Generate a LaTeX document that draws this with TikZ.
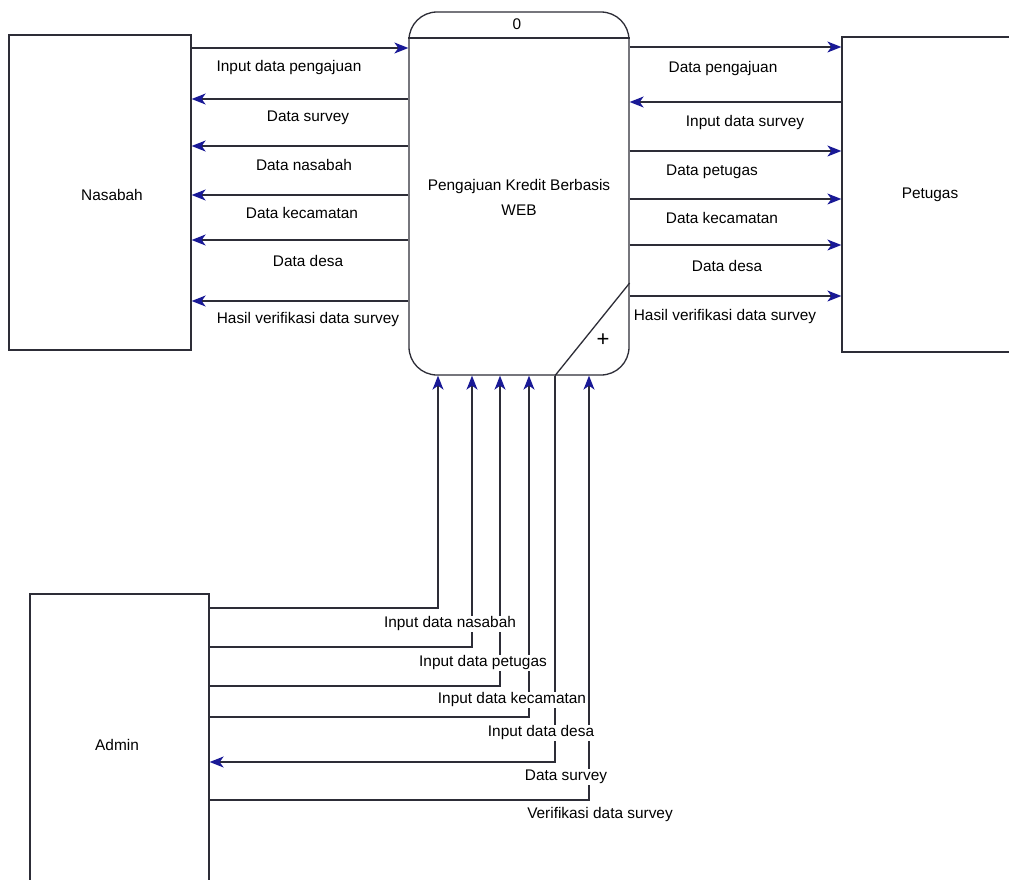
\documentclass[tikz,border=0pt]{standalone}
\usepackage{fontspec}
\setmainfont{Liberation Sans}
\usetikzlibrary{arrows.meta}
\definecolor{linec}{RGB}{45,45,55}
\definecolor{arrc}{RGB}{25,25,150}
\tikzset{
  x=1pt, y=-1pt,
  ent/.style={draw=linec, line width=1.3pt, rectangle, inner sep=0pt},
  proc/.style={draw=linec, line width=1.3pt, rectangle, rounded corners=28pt, inner sep=0pt},
  flow/.style={draw=linec, line width=1.3pt},
  arr/.style={flow, -{Stealth[length=14pt,width=11pt,inset=4pt,color=arrc]}},
  lbl/.style={font=\fontsize{15.4}{18}\selectfont, fill=white, inner sep=1pt},
  txt/.style={font=\fontsize{15.4}{25}\selectfont, align=center, inner sep=0pt},
}
\begin{document}
\begin{tikzpicture}
\useasboundingbox (0,0) rectangle (1009,879);
\clip (0,0) rectangle (1009,879);
\fill[white] (0,0) rectangle (1009,879);

% entities
\node[ent, minimum width=182pt, minimum height=315pt] (nas) at (100,192.5) {};
\node[txt] (nasT) at (112,195) {Nasabah};
\node[ent, minimum width=176pt, minimum height=315pt] (pet) at (930,194.5) {};
\node[txt] (petT) at (930,195) {Petugas};
\node[ent, minimum width=179pt, minimum height=302pt] (adm) at (119.5,745) {};
\node[txt] (admT) at (117,745) {Admin};

% process
\node[proc, minimum width=220pt, minimum height=363pt] (pr) at (519,193.5) {};
\draw[flow] (pr.west |- {(0,38)}) -- (pr.east |- {(0,38)});
\node[txt] (prN) at (517,24) {0};
\node[txt] (prT) at (519,197) {Pengajuan Kredit Berbasis\\WEB};
\coordinate (dg1) at (pr.east |- {(0,283)});
\coordinate (dg2) at (pr.south -| {(555,0)});
\draw[flow] (dg1) -- (dg2);
\node[txt, font=\fontsize{22}{24}\selectfont] (plus) at (603,340) {+};

% Nasabah <-> process
\draw[arr] (nas.east |- {(0,48)}) -- (pr.west |- {(0,48)});
\draw[arr] (pr.west |- {(0,99)}) -- (nas.east |- {(0,99)});
\draw[arr] (pr.west |- {(0,146)}) -- (nas.east |- {(0,146)});
\draw[arr] (pr.west |- {(0,195)}) -- (nas.east |- {(0,195)});
\draw[arr] (pr.west |- {(0,240)}) -- (nas.east |- {(0,240)});
\draw[arr] (pr.west |- {(0,301)}) -- (nas.east |- {(0,301)});
\node[lbl] at (289,68) {Input data pengajuan};
\node[lbl] at (308,118) {Data survey};
\node[lbl] at (304,165) {Data nasabah};
\node[lbl] at (302,213) {Data kecamatan};
\node[lbl] at (308,261) {Data desa};
\node[lbl] at (308,320) {Hasil verifikasi data survey};

% process <-> Petugas
\draw[arr] (pr.east |- {(0,47)}) -- (pet.west |- {(0,47)});
\draw[arr] (pet.west |- {(0,102)}) -- (pr.east |- {(0,102)});
\draw[arr] (pr.east |- {(0,151)}) -- (pet.west |- {(0,151)});
\draw[arr] (pr.east |- {(0,199)}) -- (pet.west |- {(0,199)});
\draw[arr] (pr.east |- {(0,245)}) -- (pet.west |- {(0,245)});
\draw[arr] (pr.east |- {(0,296)}) -- (pet.west |- {(0,296)});
\node[lbl] at (723,69) {Data pengajuan};
\node[lbl] at (745,123) {Input data survey};
\node[lbl] at (712,172) {Data petugas};
\node[lbl] at (722,218) {Data kecamatan};
\node[lbl] at (727,266) {Data desa};
\node[lbl] at (725,317) {Hasil verifikasi data survey};

% Admin <-> process
\draw[arr] (adm.east |- {(0,608)}) -| (pr.south -| {(438,0)});
\draw[arr] (adm.east |- {(0,647)}) -| (pr.south -| {(472,0)});
\draw[arr] (adm.east |- {(0,686)}) -| (pr.south -| {(500,0)});
\draw[arr] (adm.east |- {(0,717)}) -| (pr.south -| {(529,0)});
\draw[arr] (dg2) |- (adm.east |- {(0,762)});
\draw[arr] (adm.east |- {(0,800)}) -| (pr.south -| {(589,0)});
\node[lbl] at (450,624) {Input data nasabah};
\node[lbl] at (483,663) {Input data petugas};
\node[lbl] at (512,700) {Input data kecamatan};
\node[lbl] at (541,733) {Input data desa};
\node[lbl] at (566,777) {Data survey};
\node[lbl] at (600,815) {Verifikasi data survey};
\end{tikzpicture}
\end{document}
